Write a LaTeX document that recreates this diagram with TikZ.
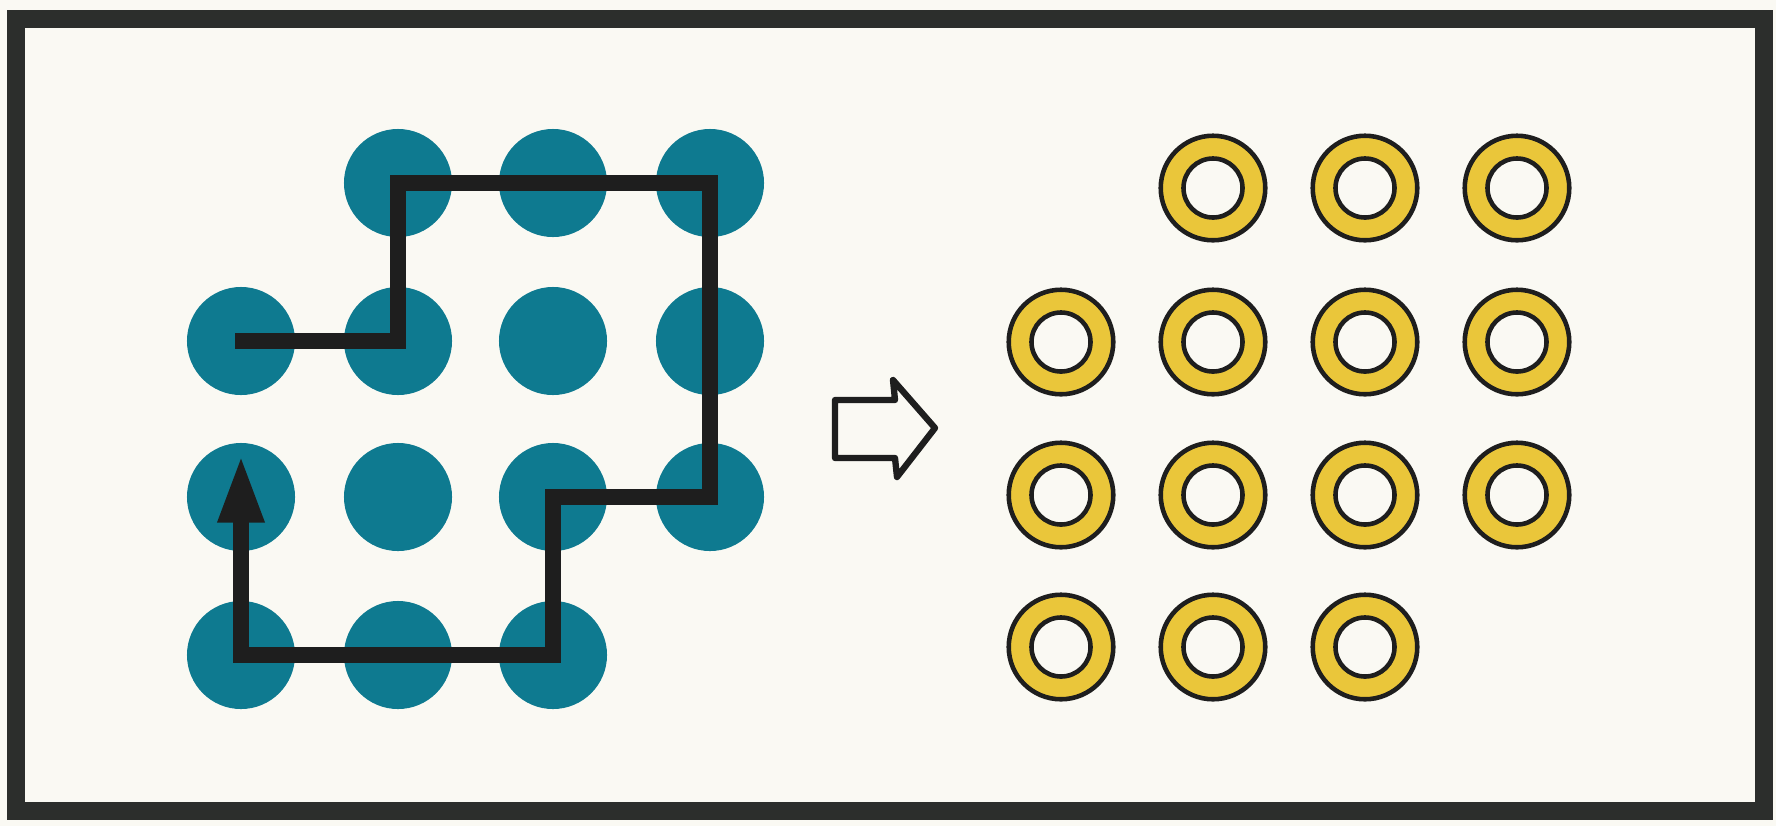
\documentclass[tikz,border=0pt]{standalone}
\usetikzlibrary{arrows.meta}
\definecolor{paper}{RGB}{250,249,243}
\definecolor{dotblue}{RGB}{14,122,144}
\definecolor{ringyellow}{RGB}{234,198,58}
\definecolor{framegray}{RGB}{44,46,44}
\definecolor{ink}{RGB}{30,30,30}
\tikzset{
  dotnode/.style={circle, fill=dotblue, inner sep=0pt, minimum size=61.5pt},
  ringnode/.style={circle, fill=ringyellow, draw=ink, line width=2.6pt, inner sep=0pt, minimum size=59.5pt},
  holeline/.style={fill=paper, draw=ink, line width=2.6pt},
  pathline/.style={draw=ink, line width=9.4pt, line join=miter, line cap=butt,
    -{Triangle[width=24pt, length=39pt]}},
  hollowarrow/.style={draw=ink, line width=3.6pt, line join=round, fill=paper},
  framebox/.style={draw=framegray, line width=10.2pt}
}
\begin{document}
\begin{tikzpicture}[x=0.02cm, y=-0.02cm]
  \useasboundingbox (0,0) rectangle (1776,826);
  \fill[paper] (0,0) rectangle (1776,826);
  \draw[framebox] (16,19) rectangle (1764,811);

  % blue dots
  \foreach \c/\x in {2/398,3/553,4/710} \node[dotnode] (d1\c) at (\x,183) {};
  \foreach \c/\x in {1/241,2/398,3/553,4/710} \node[dotnode] (d2\c) at (\x,341) {};
  \foreach \c/\x in {1/241,2/398,3/553,4/710} \node[dotnode] (d3\c) at (\x,497) {};
  \foreach \c/\x in {1/241,2/398,3/553} \node[dotnode] (d4\c) at (\x,655) {};

  % path over the dots
  \coordinate (tip) at (241,454);
  \coordinate (start) at (235,341);
  \draw[pathline] (start) -- (d22.center) -- (d12.center) -- (d14.center)
    -- (d34.center) -- (d33.center) -- (d43.center) -- (d41.center) -- (tip);

  % hollow arrow
  \draw[hollowarrow] (835,400) -- (895,400) -- (893,380) -- (935,428)
    -- (897,477) -- (895,458) -- (835,458) -- cycle;

  % yellow rings
  \foreach \c/\x in {2/1213,3/1365,4/1517} \node[ringnode] (r1\c) at (\x,188) {};
  \foreach \c/\x in {1/1061,2/1213,3/1365,4/1517} \node[ringnode] (r2\c) at (\x,342) {};
  \foreach \c/\x in {1/1061,2/1213,3/1365,4/1517} \node[ringnode] (r3\c) at (\x,495) {};
  \foreach \c/\x in {1/1061,2/1213,3/1365} \node[ringnode] (r4\c) at (\x,647) {};
  \foreach \n in {r12,r13,r14,r21,r22,r23,r24,r31,r32,r33,r34,r41,r42,r43}
    \draw[holeline] (\n.center) circle[radius=16.8pt];
\end{tikzpicture}
\end{document}
